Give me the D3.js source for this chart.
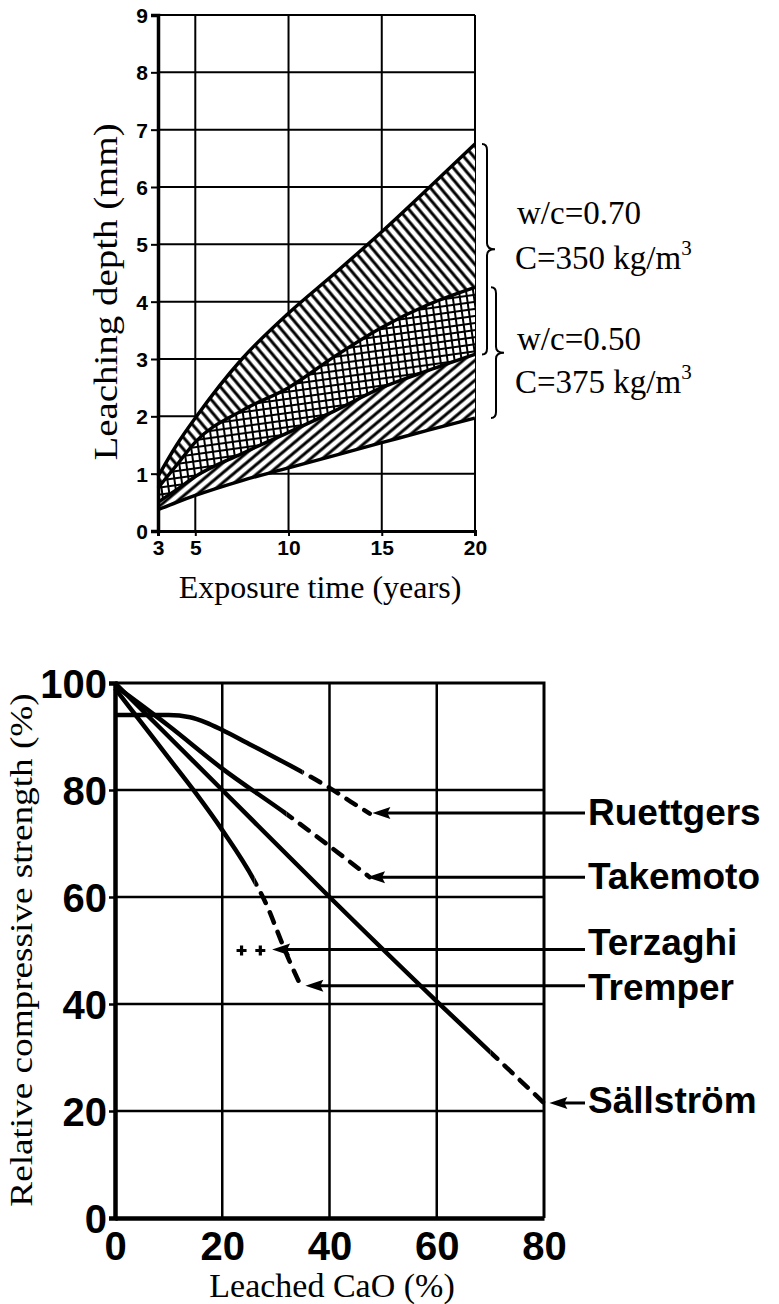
<!DOCTYPE html>
<html>
<head>
<meta charset="utf-8">
<script src="https://cdn.jsdelivr.net/npm/d3@7"></script>
<style>
  body { margin: 0; background: #fff; }
  svg { display: block; }
  .serif { font-family: "Liberation Serif", "Times New Roman", serif; fill: #000; }
  .tick-sans { font-family: "Liberation Sans", Arial, sans-serif; font-weight: bold; fill: #000; }
  .big-tick { font-family: "Liberation Sans Narrow", "Arial Narrow", "Liberation Sans", sans-serif; font-weight: bold; fill: #000; }
  .series-label { font-family: "Liberation Sans", Arial, sans-serif; font-weight: bold; fill: #000; }
</style>
</head>
<body>
<svg id="chart" width="779" height="1304"></svg>
<script>
// ---- Top chart: leaching depth vs exposure time ----
const exposureYears = [3, 4, 5, 7.5, 10, 12.5, 15, 17.5, 20];
// w/c = 0.70 band (upper and lower bound, mm)
const wc070Upper = [0.95, 1.5, 1.97, 3.0, 3.8, 4.5, 5.22, 5.98, 6.75];
const wc070Lower = [0.5, 0.72, 0.95, 1.35, 1.72, 2.1, 2.5, 2.8, 3.08];
// w/c = 0.50 band
const wc050Upper = [0.75, 1.15, 1.55, 2.1, 2.5, 3.05, 3.55, 3.95, 4.25];
const wc050Lower = [0.37, 0.5, 0.62, 0.88, 1.1, 1.32, 1.54, 1.76, 1.97];
const topXTicks = [3, 5, 10, 15, 20];
const topYTicks = [0, 1, 2, 3, 4, 5, 6, 7, 8, 9];
const bandLabels = [
  ["w/c=0.70", "C=350 kg/m"],
  ["w/c=0.50", "C=375 kg/m"]
];

// ---- Bottom chart: relative compressive strength vs leached CaO ----
const ruettgersCaO = [0, 10, 14, 17, 20, 25, 30, 35, 40, 44, 47.5];
const ruettgersStrength = [94, 94, 93.6, 92.6, 91.2, 88.6, 86, 83.3, 80.4, 77.8, 75.6];
const takemotoCaO = [0, 10, 20, 32, 40, 47.5];
const takemotoStrength = [99.5, 92, 84, 75.5, 69.5, 63.7];
const tremperCaO = [0, 5, 10, 15, 20, 26, 28.5, 30.5, 31.7, 33, 34.7];
const tremperStrength = [99, 92.5, 86, 79.5, 72.5, 63, 58, 53, 50, 47, 43.3];
const sallstromCaO = [0, 20, 40, 60, 70, 80];
const sallstromStrength = [100, 80, 60, 40.5, 31, 21.5];
const terzaghiCaO = [23.6, 27.1];
const terzaghiStrength = [50, 50];
// where each curve turns from measured (solid) to extrapolated (dashed)
const dashFromCaO = [35, 32, 26, 70];
const seriesNames = ["Ruettgers", "Takemoto", "Terzaghi", "Tremper", "Sällström"];
const arrowCaO = [48, 47, 29.3, 35.5, 81];
const arrowStrength = [75.7, 63.7, 50.2, 43.4, 21.5];
const bottomXTicks = [0, 20, 40, 60, 80];
const bottomYTicks = [0, 20, 40, 60, 80, 100];

const svg = d3.select("#chart");
const defs = svg.append("defs");

// hatch patterns
function hatch(id, angle, gap, width) {
  const p = defs.append("pattern")
    .attr("id", id)
    .attr("patternUnits", "userSpaceOnUse")
    .attr("width", gap).attr("height", gap)
    .attr("patternTransform", "rotate(" + angle + ")");
  p.append("line")
    .attr("x1", gap / 2).attr("y1", 0).attr("x2", gap / 2).attr("y2", gap)
    .attr("stroke", "#000").attr("stroke-width", width);
}
hatch("hatch-back", -40, 7.6, 3);
hatch("hatch-fwd", 50, 7.6, 3);

const grid = defs.append("pattern")
  .attr("id", "hatch-cross")
  .attr("patternUnits", "userSpaceOnUse")
  .attr("width", 7).attr("height", 7)
  .attr("patternTransform", "rotate(-8)");
grid.append("path")
  .attr("d", "M0,0H7M0,0V7")
  .attr("stroke", "#000").attr("stroke-width", 4);

// ================= top chart =================
const x1 = d3.scaleLinear().domain([3, 20]).range([158, 475]);
const y1 = d3.scaleLinear().domain([0, 9]).range([531, 15]);
const topG = svg.append("g");

// grid
topG.selectAll(".vgrid").data([5, 10, 15, 20]).join("line")
  .attr("x1", d => x1(d)).attr("x2", d => x1(d))
  .attr("y1", y1(0)).attr("y2", y1(9))
  .attr("stroke", "#000").attr("stroke-width", 2);
topG.selectAll(".hgrid").data([1, 2, 3, 4, 5, 6, 7, 8, 9]).join("line")
  .attr("x1", x1(3)).attr("x2", x1(20))
  .attr("y1", d => y1(d)).attr("y2", d => y1(d))
  .attr("stroke", "#000").attr("stroke-width", 2);

const bandIdx = d3.range(exposureYears.length);
function bandArea(lo, hi) {
  return d3.area()
    .x(i => x1(exposureYears[i]))
    .y0(i => y1(lo[i]))
    .y1(i => y1(hi[i]))
    .curve(d3.curveMonotoneX);
}
// upper band only, overlap, lower band only
const regions = [
  [wc050Upper, wc070Upper, "hatch-back"],
  [wc070Lower, wc050Upper, "hatch-cross"],
  [wc050Lower, wc070Lower, "hatch-fwd"]
];
regions.forEach(r => {
  const d = bandArea(r[0], r[1])(bandIdx);
  topG.append("path").attr("d", d).attr("fill", "#fff");
  topG.append("path").attr("d", d).attr("fill", "url(#" + r[2] + ")");
});

const bandLine = vals => d3.line()
  .x(i => x1(exposureYears[i]))
  .y(i => y1(vals[i]))
  .curve(d3.curveMonotoneX)(bandIdx);
[wc070Upper, wc070Lower, wc050Upper, wc050Lower].forEach(v => {
  topG.append("path").attr("d", bandLine(v))
    .attr("fill", "none").attr("stroke", "#000").attr("stroke-width", 3.4);
});

// axes
topG.append("g")
  .attr("transform", "translate(" + x1(3) + ",0)")
  .call(d3.axisLeft(y1).tickValues(topYTicks).tickSize(7).tickPadding(3).tickFormat(d3.format("d")))
  .call(g => g.select(".domain").attr("stroke-width", 3.5))
  .call(g => g.selectAll(".tick line").attr("stroke-width", 2))
  .call(g => g.selectAll("text").attr("class", "tick-sans").attr("font-size", 21).attr("dy", "0.35em"));
topG.append("g")
  .attr("transform", "translate(0," + y1(0) + ")")
  .call(d3.axisBottom(x1).tickValues(topXTicks).tickSize(5).tickPadding(4).tickFormat(d3.format("d")))
  .call(g => g.select(".domain").attr("stroke-width", 3))
  .call(g => g.selectAll(".tick line").attr("stroke-width", 2))
  .call(g => g.selectAll("text").attr("class", "tick-sans").attr("font-size", 21));

topG.append("text").attr("class", "serif")
  .attr("transform", "translate(117,292) rotate(-90) scale(1.18,1)")
  .attr("text-anchor", "middle").attr("font-size", 33)
  .text("Leaching depth (mm)");
topG.append("text").attr("class", "serif")
  .attr("x", 320).attr("y", 598)
  .attr("text-anchor", "middle").attr("font-size", 32)
  .text("Exposure time (years)");

// braces at x = 20
function brace(g, x, yTop, yBot) {
  const ym = (yTop + yBot) / 2;
  const r = 6;
  const d = "M" + (x - 5) + "," + yTop +
    "Q" + x + "," + yTop + " " + x + "," + (yTop + r) +
    "L" + x + "," + (ym - r) +
    "Q" + x + "," + ym + " " + (x + 8) + "," + ym +
    "Q" + x + "," + ym + " " + x + "," + (ym + r) +
    "L" + x + "," + (yBot - r) +
    "Q" + x + "," + yBot + " " + (x - 5) + "," + yBot;
  g.append("path").attr("d", d).attr("fill", "none")
    .attr("stroke", "#000").attr("stroke-width", 2);
  return ym;
}
const last = exposureYears.length - 1;
const braceSets = [[wc070Upper, wc070Lower, 487], [wc050Upper, wc050Lower, 496]];
const labelOffsets = [[-25, 20], [-3, 40]];
braceSets.forEach((b, k) => {
  const ym = brace(topG, b[2], y1(b[0][last]), y1(b[1][last]));
  topG.append("text").attr("class", "serif").attr("font-size", 33)
    .attr("x", 517).attr("y", ym + labelOffsets[k][0]).text(bandLabels[k][0]);
  const t2 = topG.append("text").attr("class", "serif").attr("font-size", 33)
    .attr("x", 515).attr("y", ym + labelOffsets[k][1]);
  t2.append("tspan").text(bandLabels[k][1]);
  t2.append("tspan").attr("font-size", 21).attr("dy", -14).text("3");
});

// ================= bottom chart =================
const x2 = d3.scaleLinear().domain([0, 80]).range([115, 544]);
const y2 = d3.scaleLinear().domain([0, 100]).range([1218, 683]);
const botG = svg.append("g");

botG.selectAll(".vgrid").data([20, 40, 60]).join("line")
  .attr("x1", d => x2(d)).attr("x2", d => x2(d))
  .attr("y1", y2(0)).attr("y2", y2(100))
  .attr("stroke", "#000").attr("stroke-width", 2.5);
botG.selectAll(".hgrid").data([20, 40, 60, 80]).join("line")
  .attr("x1", x2(0)).attr("x2", x2(80))
  .attr("y1", d => y2(d)).attr("y2", d => y2(d))
  .attr("stroke", "#000").attr("stroke-width", 2.5);
botG.append("path")
  .attr("d", "M" + x2(0) + "," + y2(100) + "H" + x2(80) + "V" + y2(0))
  .attr("fill", "none").attr("stroke", "#000").attr("stroke-width", 3);

botG.append("g")
  .attr("transform", "translate(" + x2(0) + ",0)")
  .call(d3.axisLeft(y2).tickValues(bottomYTicks).tickSize(6).tickPadding(2).tickFormat(d3.format("d")))
  .call(g => g.select(".domain").attr("stroke-width", 4.5))
  .call(g => g.selectAll(".tick line").attr("stroke-width", 2.5))
  .call(g => g.selectAll("text").attr("class", "big-tick").attr("font-size", 40).attr("dy", "0.36em"));
botG.append("g")
  .attr("transform", "translate(0," + y2(0) + ")")
  .call(d3.axisBottom(x2).tickValues(bottomXTicks).tickSize(0).tickPadding(14).tickFormat(d3.format("d")))
  .call(g => g.select(".domain").attr("stroke-width", 4.5))
  .call(g => g.selectAll("text").attr("class", "big-tick").attr("font-size", 40));

botG.append("text").attr("class", "serif")
  .attr("transform", "translate(32,950) rotate(-90) scale(1.2,1)")
  .attr("text-anchor", "middle").attr("font-size", 31)
  .text("Relative compressive strength (%)");
botG.append("text").attr("class", "serif")
  .attr("x", 332).attr("y", 1297)
  .attr("text-anchor", "middle").attr("font-size", 34)
  .text("Leached CaO (%)");

// curves: solid where measured, dashed beyond
const curves = [
  [ruettgersCaO, ruettgersStrength],
  [takemotoCaO, takemotoStrength],
  [tremperCaO, tremperStrength],
  [sallstromCaO, sallstromStrength]
];
curves.forEach((c, k) => {
  const pts = c[0].map((v, i) => [x2(v), y2(c[1][i])]);
  const d = d3.line().curve(d3.curveMonotoneX)(pts);
  const xb = x2(dashFromCaO[k]);
  defs.append("clipPath").attr("id", "solid" + k)
    .append("rect").attr("x", 0).attr("y", 600).attr("width", xb).attr("height", 700);
  defs.append("clipPath").attr("id", "dash" + k)
    .append("rect").attr("x", xb).attr("y", 600).attr("width", 779 - xb).attr("height", 700);
  botG.append("path").attr("d", d).attr("clip-path", "url(#solid" + k + ")")
    .attr("fill", "none").attr("stroke", "#000").attr("stroke-width", 4.5);
  botG.append("path").attr("d", d).attr("clip-path", "url(#dash" + k + ")")
    .attr("fill", "none").attr("stroke", "#000").attr("stroke-width", 4.5)
    .attr("stroke-dasharray", "11,10").attr("stroke-linecap", "round");
});

// Terzaghi "+" points
terzaghiCaO.forEach((v, i) => {
  const cx = x2(v), cy = y2(terzaghiStrength[i]);
  botG.append("path")
    .attr("d", "M" + (cx - 5) + "," + cy + "H" + (cx + 5) + "M" + cx + "," + (cy - 5) + "V" + (cy + 5))
    .attr("stroke", "#000").attr("stroke-width", 3.2);
});

// leaders, arrowheads and labels
const labelX = 588;
const labelDy = [12, 12, 6, 14, 10];
seriesNames.forEach((name, i) => {
  const tx = x2(arrowCaO[i]), ty = y2(arrowStrength[i]);
  botG.append("line")
    .attr("x1", labelX - 3).attr("x2", tx + 10)
    .attr("y1", ty).attr("y2", ty)
    .attr("stroke", "#000").attr("stroke-width", 3);
  botG.append("path")
    .attr("d", "M" + tx + "," + ty + "L" + (tx + 18) + "," + (ty - 6) + "L" + (tx + 15) + "," + ty + "L" + (tx + 18) + "," + (ty + 6) + "Z")
    .attr("fill", "#000");
  botG.append("text").attr("class", "series-label")
    .attr("x", labelX).attr("y", ty + labelDy[i])
    .attr("font-size", 37)
    .text(name);
});
</script>
</body>
</html>
